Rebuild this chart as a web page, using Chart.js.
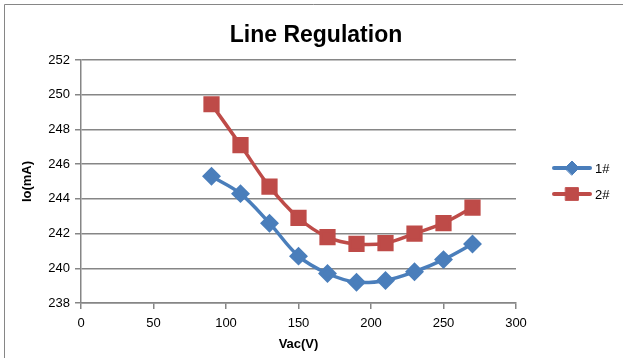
<!DOCTYPE html>
<html>
<head>
<meta charset="utf-8">
<script src="https://cdn.jsdelivr.net/npm/chart.js@4"></script>
<style>
  html, body { margin: 0; padding: 0; background: #fff; }
  #wrap { width: 623px; height: 358px; position: relative; }
</style>
</head>
<body>
<div id="wrap"><canvas id="chart" width="623" height="358"></canvas></div>
<script>
// ====== Data ======
const vac = [90, 110, 130, 150, 170, 190, 210, 230, 250, 270];
const io1 = [245.3, 244.3, 242.6, 240.7, 239.7, 239.2, 239.3, 239.8, 240.5, 241.4];
const io2 = [249.45, 247.1, 244.7, 242.9, 241.8, 241.4, 241.45, 242.0, 242.6, 243.5];
const seriesNames = ["1#", "2#"];
const xTicks = [0, 50, 100, 150, 200, 250, 300];
const yTicks = [238, 240, 242, 244, 246, 248, 250, 252];
const chartTitle = "Line Regulation";

const GRID = "#868686";
const BLUE = "#4A7EBB";
const RED = "#BE4B48";
const FONT = "'Liberation Sans', 'DejaVu Sans', sans-serif";

// ====== Plugins ======
// outer frame (only top + left edges show in the picture) and the title
const frame = {
  id: "frame",
  beforeDraw(c) {
    const g = c.ctx;
    g.save();
    g.strokeStyle = GRID;
    g.lineWidth = 1;
    g.beginPath();
    g.moveTo(4.5, 358);
    g.lineTo(4.5, 4.5);
    g.lineTo(623, 4.5);
    g.stroke();
    g.fillStyle = "#000";
    g.font = "bold 23px " + FONT;
    g.textAlign = "center";
    g.textBaseline = "middle";
    g.fillText(chartTitle, 316, 36);
    g.restore();
  }
};

const excelLegend = {
  id: "excelLegend",
  afterDraw(c) {
    const g = c.ctx;
    const rows = [168, 194];
    c.data.datasets.forEach((ds, i) => {
      const y = rows[i];
      g.save();
      g.strokeStyle = ds.borderColor;
      g.lineWidth = 4;
      g.lineCap = "round";
      g.beginPath();
      g.moveTo(554, y);
      g.lineTo(590, y);
      g.stroke();
      g.fillStyle = ds.backgroundColor;
      g.strokeStyle = ds.borderColor;
      g.lineWidth = 1;
      Chart.helpers.drawPoint(g, { pointStyle: ds.pointStyle, radius: ds.pointRadius, borderWidth: 1 }, 572, y);
      g.fillStyle = "#000";
      g.font = "13px " + FONT;
      g.textBaseline = "middle";
      g.fillText(ds.label, 595, y + 1);
      g.restore();
    });
  }
};

// ====== Chart ======
const ctx = document.getElementById("chart").getContext("2d");
const chart = new Chart(ctx, {
  type: "line",
  data: {
    datasets: [
      {
        label: seriesNames[0],
        data: vac.map((v, i) => ({ x: v, y: io1[i] })),
        borderColor: BLUE,
        backgroundColor: BLUE,
        borderWidth: 3.5,
        pointStyle: "rectRot",
        pointRadius: 7,
        pointHoverRadius: 7,
        tension: 0.35
      },
      {
        label: seriesNames[1],
        data: vac.map((v, i) => ({ x: v, y: io2[i] })),
        borderColor: RED,
        backgroundColor: RED,
        borderWidth: 3.5,
        pointStyle: "rect",
        pointRadius: 9,
        pointHoverRadius: 9,
        tension: 0.35
      }
    ]
  },
  options: {
    responsive: false,
    animation: false,
    layout: { padding: { left: 0, right: 107, top: 60, bottom: 0 } },
    plugins: {
      legend: { display: false },
      tooltip: { enabled: false },
      title: { display: false }
    },
    scales: {
      x: {
        type: "linear",
        min: 0,
        max: 300,
        afterBuildTicks: s => { s.ticks = xTicks.map(v => ({ value: v })); },
        afterFit: s => { s.height = 55; },
        ticks: { color: "#000", font: { family: FONT, size: 13 }, padding: 7, maxRotation: 0 },
        grid: { drawOnChartArea: false, drawTicks: true, tickLength: 6, color: GRID, lineWidth: 1.5 },
        border: { color: GRID, width: 1.5 },
        title: {
          display: true,
          text: "Vac(V)",
          color: "#000",
          font: { family: FONT, size: 13, weight: "bold" },
          padding: { top: 0, bottom: 6 }
        }
      },
      y: {
        type: "linear",
        min: 238,
        max: 252,
        afterBuildTicks: s => { s.ticks = yTicks.map(v => ({ value: v })); },
        afterFit: s => { s.width = 81; },
        ticks: { color: "#000", font: { family: FONT, size: 13 }, padding: 5 },
        grid: { drawTicks: true, tickLength: 6, color: GRID, lineWidth: 1.5 },
        border: { color: GRID, width: 1.5 },
        title: {
          display: true,
          text: "Io(mA)",
          color: "#000",
          font: { family: FONT, size: 13, weight: "bold" },
          padding: { top: 20, bottom: 0 }
        }
      }
    }
  },
  plugins: [frame, excelLegend]
});
</script>
</body>
</html>
